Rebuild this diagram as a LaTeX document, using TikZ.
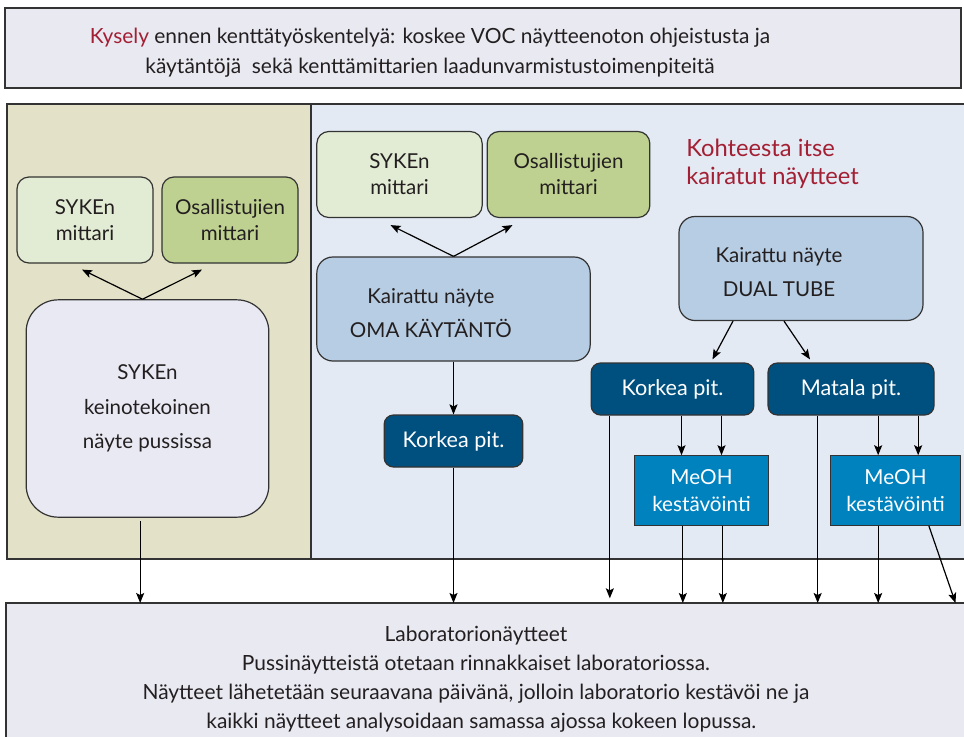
\documentclass[tikz,border=0pt]{standalone}
\usepackage{fontspec}
\setmainfont{Lato}
\usetikzlibrary{arrows.meta,calc}
\definecolor{txt}{HTML}{231F20}
\definecolor{edge}{HTML}{333333}
\definecolor{topfill}{HTML}{E9E9F2}
\definecolor{leftpanel}{HTML}{E3E2C8}
\definecolor{rightpanel}{HTML}{E3EAF3}
\definecolor{sykefill}{HTML}{E2EBD3}
\definecolor{osafill}{HTML}{BED190}
\definecolor{bagfill}{HTML}{E9E9F3}
\definecolor{kairfill}{HTML}{B7CDE3}
\definecolor{pitfill}{HTML}{00507F}
\definecolor{meohfill}{HTML}{0082BF}
\definecolor{kyred}{HTML}{A31F34}
\begin{document}
\begin{tikzpicture}[x=0.75pt, y=-0.75pt, text=txt, font=\fontsize{15.4}{19.5}\selectfont,
  arr/.style={-{Stealth[length=7.5pt,width=6pt,inset=1.5pt]}, line width=0.9pt, draw=black},
  frame/.style={draw=edge, line width=1.1pt},
  box/.style={draw=edge, line width=0.9pt, rounded corners=9pt, align=center, inner sep=0pt},
  meter/.style={box, minimum height=64.5pt},
  sample/.style={box, fill=kairfill, rounded corners=12pt, minimum height=78pt},
  pit/.style={box, fill=pitfill, text=white, rounded corners=7pt, minimum height=39pt, font=\fontsize{16.2}{19}\selectfont},
  meoh/.style={box, fill=meohfill, text=white, rounded corners=0pt, minimum height=52pt, font=\fontsize{15.5}{20}\selectfont}]
\useasboundingbox (0,0) rectangle (964,736);
% frames
\draw[frame, fill=topfill] (5,8) rectangle (961,88);
\draw[frame, fill=leftpanel] (7,104) rectangle (311,559);
\draw[frame, fill=rightpanel] (311,104) rectangle (970,559);
\draw[frame, fill=topfill] (6,603) rectangle (970,745);
\coordinate (labtop) at (0,603);

\node[align=center, font=\fontsize{15.7}{22.5}\selectfont] (kysely) at (430,53)
  {{\color{kyred}Kysely} ennen kenttätyöskentelyä: koskee VOC näytteenoton ohjeistusta ja\\
   käytäntöjä\ \ sekä kenttämittarien laadunvarmistustoimenpiteitä};

% bag sample
\node[meter, fill=sykefill, minimum width=102pt] (sm1) at (85,220) {SYKEn\\mittari};
\node[meter, fill=osafill, minimum width=102pt] (om1) at (230,220) {Osallistujien\\mittari};
\node[box, fill=bagfill, rounded corners=24pt, minimum width=182pt, minimum height=163pt,
  font=\fontsize{15.4}{26}\selectfont] (bag) at (147.5,408.5) {SYKEn\\keinotekoinen\\ näyte pussissa};
\draw[arr] ($(bag.north)+(-5,0)$) -- ($(sm1.south)+(-3,6)$);
\draw[arr] ($(bag.north)+(-5,0)$) -- ($(om1.south)+(-28,6)$);
\draw[arr] ([xshift=-5.5pt,yshift=-2.5pt]bag.south) -- ([xshift=-5.5pt]bag.south |- labtop);

% own practice
\node[meter, fill=sykefill, minimum width=124pt] (sm2) at (399.5,174.5) {SYKEn\\mittari};
\node[meter, fill=osafill, minimum width=122pt] (om2) at (568.5,174.5) {Osallistujien\\mittari};
\node[sample, minimum width=205pt,
  label={[xshift=-17pt, yshift=-3pt, align=center, font=\fontsize{15.4}{25}\selectfont]center:Kairattu näyte\\OMA KÄYTÄNTÖ}] (oma) at (453.5,309) {};
\draw[arr] (oma.north) -- ($(sm2.south)+(-9,7)$);
\draw[arr] (oma.north) -- ($(om2.south)+(-56,7)$);
\node[pit, minimum width=104pt] (kp1) at (453.5,441) {Korkea pit.};
\draw[arr] (oma.south) -- (kp1.north);
\draw[arr] (kp1.south) -- (kp1.south |- labtop);

% dual tube
\node[anchor=west, align=left, text=kyred, inner sep=0pt, font=\fontsize{17.8}{21}\selectfont] (kohde) at (686,164)
  {Kohteesta itse\\kairatut näytteet};
\node[sample, minimum width=183pt,
  label={[xshift=-16.5pt, yshift=-3pt, align=center, font=\fontsize{15.4}{25.5}\selectfont]center:Kairattu näyte\\DUAL TUBE}] (dual) at (801,268.5) {};
\node[pit, minimum width=122pt] (kp2) at (672.5,389) {Korkea pit.};
\node[pit, minimum width=124.5pt] (mp) at (851,389) {Matala pit.};
\draw[arr] ($(dual.south)+(-68,0)$) -- ($(kp2.north)+(40,-3)$);
\draw[arr] ($(dual.south)+(-17,0)$) -- ($(mp.north)+(-41,-3)$);
\node[meoh, minimum width=100pt] (meoh1) at (701.5,490.5) {MeOH\\kestävöinti};
\node[meoh, minimum width=97pt] (meoh2) at (895.5,490.5) {MeOH\\kestävöinti};
\draw[arr] ([xshift=-15pt]meoh1.north |- kp2.south) -- ([xshift=-15pt]meoh1.north);
\draw[arr] ([xshift=15pt]meoh1.north |- kp2.south) -- ([xshift=15pt]meoh1.north);
\draw[arr] ([xshift=-13pt]meoh2.north |- mp.south) -- ([xshift=-13pt]meoh2.north);
\draw[arr] ([xshift=17pt]meoh2.north |- mp.south) -- ([xshift=17pt]meoh2.north);
\draw[arr] ([xshift=-47pt]kp2.south) -- ([xshift=-47pt,yshift=3.5pt]kp2.south |- labtop);
\draw[arr] ([xshift=-25pt]mp.south) -- ([xshift=-25pt]mp.south |- labtop);
\draw[arr] ([xshift=-14pt]meoh1.south) -- ([xshift=-14pt]meoh1.south |- labtop);
\draw[arr] ([xshift=16pt]meoh1.south) -- ([xshift=16pt]meoh1.south |- labtop);
\draw[arr] ([xshift=-13pt]meoh2.south) -- ([xshift=-13pt]meoh2.south |- labtop);
\draw[arr] ([xshift=25pt]meoh2.south) -- ([xshift=45pt]meoh2.south |- labtop);

% laboratory
\node[align=center, font=\fontsize{15.7}{21.75}\selectfont] (lab) at (476,679)
  {Laboratorionäytteet\\
   Pussinäytteistä otetaan rinnakkaiset laboratoriossa.\\
   Näytteet lähetetään seuraavana päivänä, jolloin laboratorio kestävöi ne ja\\
   \ \ kaikki näytteet analysoidaan samassa ajossa kokeen lopussa.};
\end{tikzpicture}
\end{document}
